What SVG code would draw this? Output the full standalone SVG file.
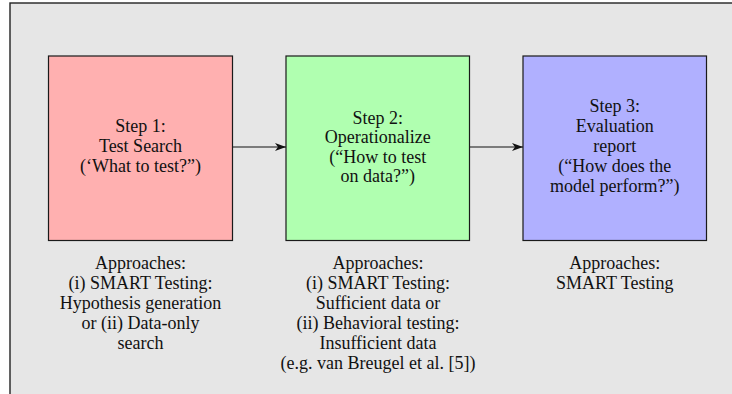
<svg xmlns="http://www.w3.org/2000/svg" width="732" height="394" viewBox="0 0 732 394">
  <style>
    .t { font-family: "Liberation Serif", "Times New Roman", serif; font-size: 18px; fill: #111; text-anchor: middle; }
    .box { stroke: #1a1a1a; stroke-width: 1.2; }
    .conn { stroke: #111; stroke-width: 1.2; fill: none; }
  </style>
  <defs>
    <marker id="arr" markerUnits="userSpaceOnUse" markerWidth="12" markerHeight="10" refX="11" refY="5" orient="auto">
      <path d="M11,5 L0,1 L3,5 L0,9 Z" fill="#111"/>
    </marker>
  </defs>
  <rect x="0" y="0" width="732" height="394" fill="#ffffff"/>
  <rect id="frame" x="10" y="3" width="740" height="410" fill="#e6e6e6" stroke="#222" stroke-width="1.4"/>

  <g id="connectors">
    <line class="conn" x1="232.5" y1="147" x2="286" y2="147" marker-end="url(#arr)"/>
    <line class="conn" x1="469.5" y1="147" x2="523" y2="147" marker-end="url(#arr)"/>
  </g>

  <g id="step1">
    <rect class="box" x="48.5" y="56" width="184" height="184.5" fill="#ffb0b0"/>
    <text class="t" x="140.5" y="131.5">Step 1:</text>
    <text class="t" x="140.5" y="151.5">Test Search</text>
    <text class="t" x="140.5" y="171.5">(‘What to test?”)</text>
  </g>

  <g id="step2">
    <rect class="box" x="286" y="56" width="183.5" height="184.5" fill="#b0ffb0"/>
    <text class="t" x="377.75" y="123.5">Step 2:</text>
    <text class="t" x="377.75" y="143">Operationalize</text>
    <text class="t" x="377.75" y="162.5">(“How to test</text>
    <text class="t" x="377.75" y="182">on data?”)</text>
  </g>

  <g id="step3">
    <rect class="box" x="523" y="56" width="183.5" height="184.5" fill="#b0b0ff"/>
    <text class="t" x="614.75" y="111.5">Step 3:</text>
    <text class="t" x="614.75" y="131.5">Evaluation</text>
    <text class="t" x="614.75" y="151.5">report</text>
    <text class="t" x="614.75" y="171.5">(“How does the</text>
    <text class="t" x="614.75" y="191.5">model perform?”)</text>
  </g>

  <g id="approaches1">
    <text class="t" x="140.5" y="269">Approaches:</text>
    <text class="t" x="140.5" y="289">(i) SMART Testing:</text>
    <text class="t" x="140.5" y="309">Hypothesis generation</text>
    <text class="t" x="140.5" y="328.5">or (ii) Data-only</text>
    <text class="t" x="140.5" y="348.5">search</text>
  </g>

  <g id="approaches2">
    <text class="t" x="378" y="269">Approaches:</text>
    <text class="t" x="378" y="289">(i) SMART Testing:</text>
    <text class="t" x="378" y="309">Sufficient data or</text>
    <text class="t" x="378" y="329">(ii) Behavioral testing:</text>
    <text class="t" x="378" y="349">Insufficient data</text>
    <text class="t" x="378" y="369">(e.g. van Breugel et al. [5])</text>
  </g>

  <g id="approaches3">
    <text class="t" x="614.75" y="269">Approaches:</text>
    <text class="t" x="614.75" y="289">SMART Testing</text>
  </g>
</svg>
